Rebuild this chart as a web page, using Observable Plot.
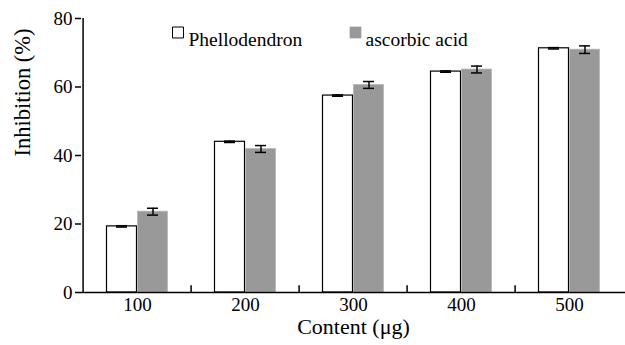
<!DOCTYPE html>
<html><head><meta charset="utf-8">
<script src="https://cdn.jsdelivr.net/npm/d3@7"></script>
<script src="https://cdn.jsdelivr.net/npm/@observablehq/plot@0.6"></script>
<style>body{margin:0;background:#fff}</style>
</head><body><div id="chart"></div>
<script>
const categories = ["100", "200", "300", "400", "500"];
const phellodendron = [19.3, 44.0, 57.5, 64.5, 71.3];
const phellodendronErr = [0.2, 0.2, 0.2, 0.2, 0.2];
const ascorbic = [23.6, 41.9, 60.6, 65.1, 70.9];
const ascorbicErr = [1.0, 1.0, 1.0, 1.0, 1.1];
const seriesNames = ["Phellodendron", "ascorbic acid"];
const yTicks = [0, 20, 40, 60, 80];
const xTitle = "Content (\u03bcg)";
const yTitle = "Inhibition (%)";

const FF = "Liberation Serif";
const pRows = categories.map((c, i) => ({cat: c, v: phellodendron[i], e: phellodendronErr[i]}));
const aRows = categories.map((c, i) => ({cat: c, v: ascorbic[i], e: ascorbicErr[i]}));

const chart = Plot.plot({
  width: 625,
  height: 345,
  marginLeft: 81,
  marginRight: 0,
  marginTop: 18,
  marginBottom: 53,
  style: {fontFamily: "'Liberation Serif', serif", fontSize: "19px", color: "black", background: "white"},
  x: {domain: categories, padding: 0},
  y: {domain: [0, 80]},
  marks: [
    Plot.barY(pRows, {x: "cat", y: "v", fill: "white", stroke: "black", strokeWidth: 1.2, insetLeft: 23.5, insetRight: 54.5}),
    Plot.barY(aRows, {x: "cat", y: "v", fill: "#999999", stroke: "#b8b8b8", strokeWidth: 0.8, insetLeft: 54.5, insetRight: 23.5}),
    Plot.ruleX(pRows, {x: "cat", y1: d => d.v - d.e, y2: d => d.v + d.e, dx: -15.5, stroke: "black", strokeWidth: 1.5}),
    Plot.tickY(pRows, {x: "cat", y: d => d.v + d.e, insetLeft: 33, insetRight: 64, stroke: "black", strokeWidth: 1.5}),
    Plot.tickY(pRows, {x: "cat", y: d => d.v - d.e, insetLeft: 33, insetRight: 64, stroke: "black", strokeWidth: 1.5}),
    Plot.ruleX(aRows, {x: "cat", y1: d => d.v - d.e, y2: d => d.v + d.e, dx: 15.5, stroke: "black", strokeWidth: 1.5}),
    Plot.tickY(aRows, {x: "cat", y: d => d.v + d.e, insetLeft: 64, insetRight: 33, stroke: "black", strokeWidth: 1.5}),
    Plot.tickY(aRows, {x: "cat", y: d => d.v - d.e, insetLeft: 64, insetRight: 33, stroke: "black", strokeWidth: 1.5}),
    Plot.ruleY([0], {stroke: "black", strokeWidth: 1.5}),
    Plot.ruleX([categories[0]], {x: d => d, y1: 0, y2: 80, dx: -54.4, stroke: "black", strokeWidth: 1.5}),
    Plot.ruleX(categories.slice(1), {x: d => d, y1: 0, y2: 2, dx: -54.4, stroke: "black", strokeWidth: 1.5}),
    Plot.axisY({ticks: yTicks, tickSize: 6, tickPadding: 3, label: null, fontSize: 19, fontFamily: FF, strokeWidth: 1.5}),
    Plot.axisX({tickSize: 0, tickPadding: 5, label: null, fontSize: 19, fontFamily: FF}),
    Plot.text([xTitle], {frameAnchor: "bottom", dy: 41, fontSize: 22, fontFamily: FF}),
    Plot.text([yTitle], {frameAnchor: "left", dx: -59, dy: 1, rotate: -90, fontSize: 22.5, fontFamily: FF}),
    Plot.dot([seriesNames[0]], {frameAnchor: "top-left", dx: 96.5, dy: 14, symbol: "square", r: 6.2, fill: "white", stroke: "black", strokeWidth: 1}),
    Plot.text([seriesNames[0]], {frameAnchor: "top-left", dx: 107, dy: 14, textAnchor: "start", fontSize: 19.5, fontFamily: FF}),
    Plot.dot([seriesNames[1]], {frameAnchor: "top-left", dx: 274, dy: 14, symbol: "square", r: 6.6, fill: "#999999"}),
    Plot.text([seriesNames[1]], {frameAnchor: "top-left", dx: 284, dy: 14, textAnchor: "start", fontSize: 19.5, fontFamily: FF})
  ]
});
document.getElementById("chart").appendChild(chart);
</script>
</body></html>
